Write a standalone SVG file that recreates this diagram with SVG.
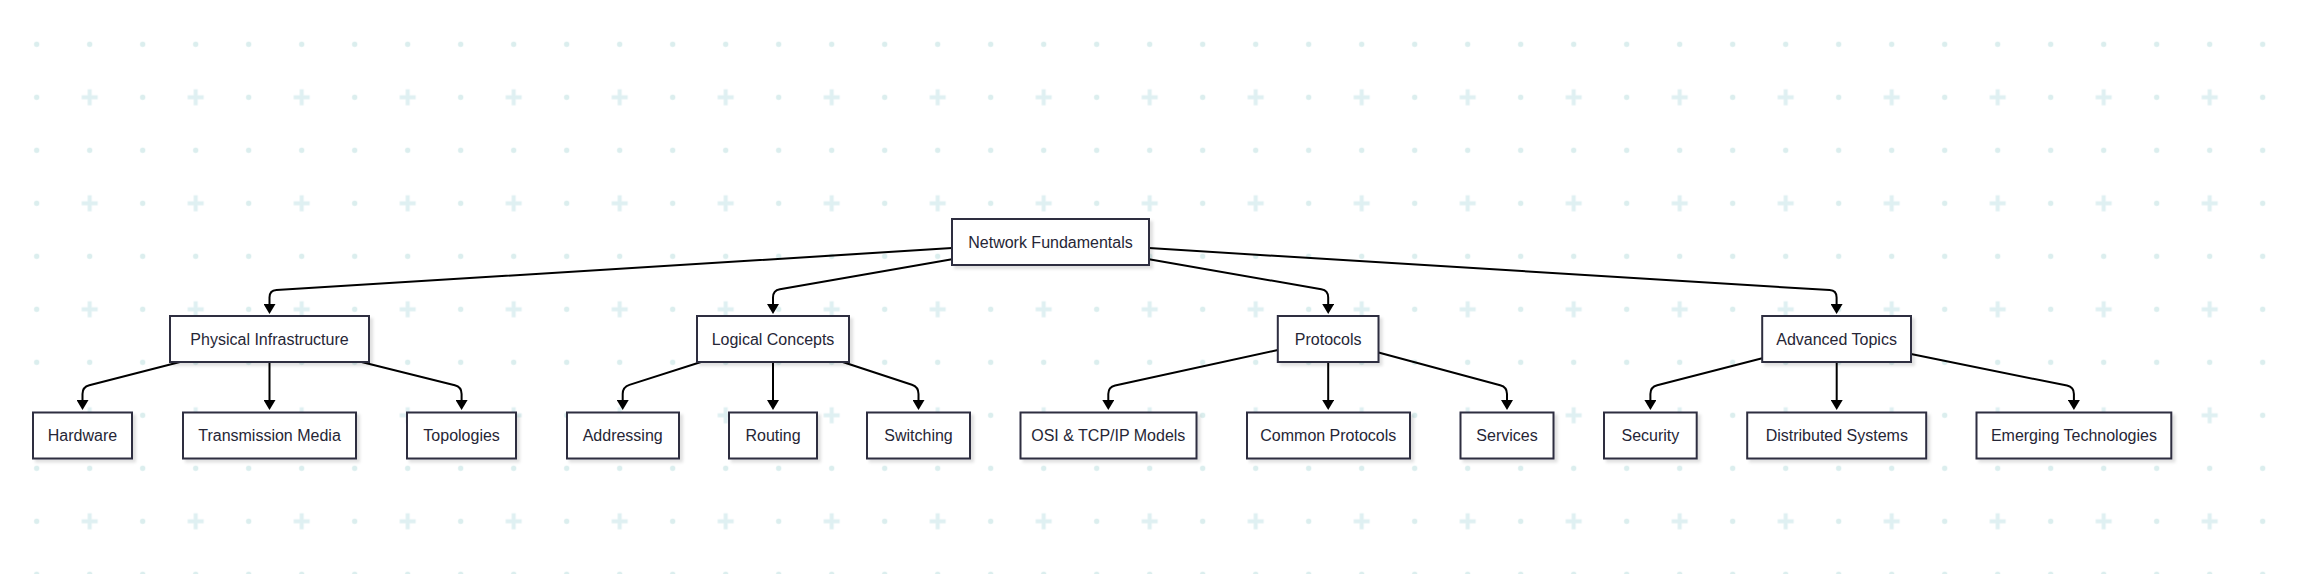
<svg xmlns="http://www.w3.org/2000/svg" width="2304" height="574" viewBox="0 0 2304 574">
<style>
.node rect{fill:#ffffff;stroke:#2e2e40;stroke-width:2;filter:url(#shadow);}
.node text{font-family:"Liberation Sans",Arial,sans-serif;font-size:16px;fill:#262636;text-anchor:middle;dominant-baseline:central;}
.edge{fill:none;stroke:#000000;stroke-width:2;marker-end:url(#arrow);}
</style>
<defs>
<pattern id="grid" x="10.2" y="17.8" width="106" height="106" patternUnits="userSpaceOnUse">
<circle cx="26.5" cy="26.5" r="2.7" fill="#dbeeee"/>
<circle cx="79.5" cy="26.5" r="2.7" fill="#dbeeee"/>
<circle cx="26.5" cy="79.5" r="2.7" fill="#dbeeee"/>
<rect x="71.5" y="77.5" width="16" height="4" fill="#dff0f2"/>
<rect x="77.5" y="71.5" width="4" height="16" fill="#dff0f2"/>
</pattern>
<filter id="shadow" x="-10%" y="-20%" width="130%" height="160%">
<feDropShadow dx="3" dy="3" stdDeviation="1.5" flood-color="#000000" flood-opacity="0.12"/>
</filter>
<marker id="arrow" viewBox="0 0 10 12" refX="7" refY="6" markerWidth="10" markerHeight="12" markerUnits="userSpaceOnUse" orient="auto">
<path d="M0,0 L10,6 L0,12 z" fill="#000000"/>
</marker>
</defs>
<rect x="0" y="0" width="2304" height="574" fill="#ffffff"/>
<rect x="0" y="0" width="2304" height="574" fill="url(#grid)"/>

<g id="connectors">
<path class="edge" d="M952,248.1 L276.5,290.07 Q269.5,290.5 269.5,297.5 L269.5,311"/>
<path class="edge" d="M952,259.2 L779.9,289.3 Q773,290.5 773,297.5 L773,311"/>
<path class="edge" d="M1149,259.2 L1321.3,289.3 Q1328.2,290.5 1328.2,297.5 L1328.2,311"/>
<path class="edge" d="M1149,248.1 L1829.6,290.07 Q1836.6,290.5 1836.6,297.5 L1836.6,311"/>

<path class="edge" d="M179.9,362 L89.3,385.3 Q82.5,387 82.5,394 L82.5,407"/>
<path class="edge" d="M269.5,362 L269.5,407"/>
<path class="edge" d="M361.5,362 L454.8,385.3 Q461.6,387 461.6,394 L461.6,407"/>

<path class="edge" d="M701,362 L629.4,384.9 Q622.7,387 622.7,394 L622.7,407"/>
<path class="edge" d="M773,362 L773,407"/>
<path class="edge" d="M842.7,362 L911.9,384.8 Q918.5,387 918.5,394 L918.5,407"/>

<path class="edge" d="M1277.8,350 L1115.1,385.5 Q1108.3,387 1108.3,394 L1108.3,407"/>
<path class="edge" d="M1328.2,362 L1328.2,407"/>
<path class="edge" d="M1378.5,352.5 L1500.2,385.2 Q1507,387 1507,394 L1507,407"/>

<path class="edge" d="M1762.2,358.2 L1657.2,385.3 Q1650.4,387 1650.4,394 L1650.4,407"/>
<path class="edge" d="M1836.7,362 L1836.7,407"/>
<path class="edge" d="M1911,354 L2067,385.6 Q2073.9,387 2073.9,394 L2073.9,407"/>
</g>

<g id="network-fundamentals" class="node"><rect x="952" y="219" width="197" height="46"/><text x="1050.5" y="242">Network Fundamentals</text></g>

<g id="physical-infrastructure" class="node"><rect x="170" y="316" width="199" height="46"/><text x="269.5" y="339">Physical Infrastructure</text></g>
<g id="logical-concepts" class="node"><rect x="697" y="316" width="152" height="46"/><text x="773" y="339">Logical Concepts</text></g>
<g id="protocols" class="node"><rect x="1277.8" y="316" width="100.7" height="46"/><text x="1328.2" y="339">Protocols</text></g>
<g id="advanced-topics" class="node"><rect x="1762.2" y="316" width="148.8" height="46"/><text x="1836.6" y="339">Advanced Topics</text></g>

<g id="hardware" class="node"><rect x="33" y="412.5" width="99" height="46"/><text x="82.5" y="435.5">Hardware</text></g>
<g id="transmission-media" class="node"><rect x="183" y="412.5" width="173" height="46"/><text x="269.5" y="435.5">Transmission Media</text></g>
<g id="topologies" class="node"><rect x="407" y="412.5" width="109" height="46"/><text x="461.6" y="435.5">Topologies</text></g>

<g id="addressing" class="node"><rect x="567" y="412.5" width="112" height="46"/><text x="622.7" y="435.5">Addressing</text></g>
<g id="routing" class="node"><rect x="729" y="412.5" width="88" height="46"/><text x="773" y="435.5">Routing</text></g>
<g id="switching" class="node"><rect x="867" y="412.5" width="103" height="46"/><text x="918.5" y="435.5">Switching</text></g>

<g id="osi-tcpip-models" class="node"><rect x="1020.5" y="412.5" width="176" height="46"/><text x="1108.3" y="435.5">OSI &amp; TCP/IP Models</text></g>
<g id="common-protocols" class="node"><rect x="1247" y="412.5" width="163" height="46"/><text x="1328.3" y="435.5">Common Protocols</text></g>
<g id="services" class="node"><rect x="1460.5" y="412.5" width="93" height="46"/><text x="1507" y="435.5">Services</text></g>

<g id="security" class="node"><rect x="1604" y="412.5" width="92.7" height="46"/><text x="1650.4" y="435.5">Security</text></g>
<g id="distributed-systems" class="node"><rect x="1747.2" y="412.5" width="179" height="46"/><text x="1836.8" y="435.5">Distributed Systems</text></g>
<g id="emerging-technologies" class="node"><rect x="1976.5" y="412.5" width="194.8" height="46"/><text x="2073.9" y="435.5">Emerging Technologies</text></g>
</svg>
